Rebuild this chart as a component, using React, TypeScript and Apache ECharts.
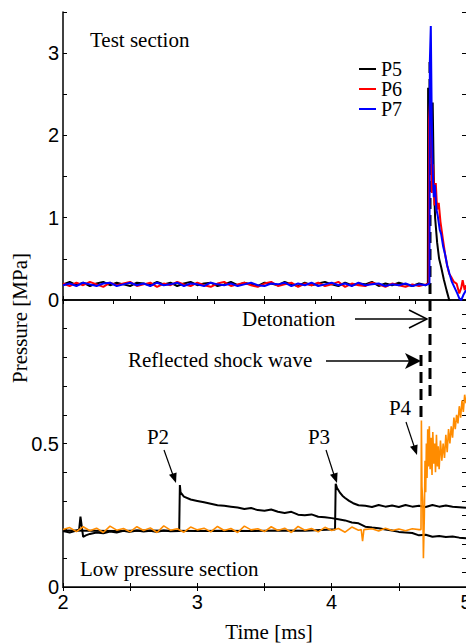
import React, { useEffect, useRef } from "react";
import * as echarts from "echarts";

// ---------- Top panel (test section) ----------
const tBaseTop = [2.0, 2.05, 2.1, 2.15, 2.2, 2.25, 2.3, 2.35, 2.4, 2.45, 2.5, 2.55, 2.6, 2.65, 2.7, 2.75, 2.8, 2.85, 2.9, 2.95,
  3.0, 3.05, 3.1, 3.15, 3.2, 3.25, 3.3, 3.35, 3.4, 3.45, 3.5, 3.55, 3.6, 3.65, 3.7, 3.75, 3.8, 3.85, 3.9, 3.95,
  4.0, 4.05, 4.1, 4.15, 4.2, 4.25, 4.3, 4.35, 4.4, 4.45, 4.5, 4.55, 4.6, 4.65];

const baseP5 = [0.19, 0.22, 0.18, 0.21, 0.17, 0.2, 0.22, 0.18, 0.21, 0.19,
  0.17, 0.21, 0.2, 0.18, 0.22, 0.19, 0.21, 0.17, 0.2, 0.22,
  0.18, 0.2, 0.21, 0.17, 0.19, 0.22, 0.18, 0.21, 0.19, 0.17,
  0.21, 0.2, 0.18, 0.22, 0.19, 0.17, 0.21, 0.18, 0.2, 0.22,
  0.19, 0.17, 0.21, 0.18, 0.2, 0.19, 0.22, 0.17, 0.2, 0.18,
  0.21, 0.19, 0.17, 0.2];
const baseP6 = [0.2, 0.17, 0.21, 0.18, 0.22, 0.19, 0.16, 0.21, 0.18, 0.2,
  0.22, 0.17, 0.19, 0.21, 0.16, 0.2, 0.18, 0.22, 0.19, 0.17,
  0.21, 0.18, 0.16, 0.2, 0.22, 0.17, 0.19, 0.21, 0.18, 0.16,
  0.2, 0.22, 0.17, 0.19, 0.21, 0.16, 0.2, 0.18, 0.21, 0.17,
  0.19, 0.22, 0.16, 0.2, 0.18, 0.17, 0.21, 0.19, 0.16, 0.2,
  0.18, 0.16, 0.19, 0.17];
const baseP7 = [0.18, 0.2, 0.17, 0.21, 0.19, 0.17, 0.2, 0.21, 0.17, 0.19,
  0.21, 0.18, 0.2, 0.17, 0.21, 0.18, 0.19, 0.21, 0.17, 0.2,
  0.19, 0.17, 0.21, 0.19, 0.18, 0.2, 0.17, 0.19, 0.21, 0.18,
  0.17, 0.2, 0.19, 0.21, 0.17, 0.2, 0.18, 0.21, 0.17, 0.19,
  0.21, 0.18, 0.2, 0.17, 0.21, 0.18, 0.19, 0.2, 0.17, 0.19,
  0.18, 0.2, 0.17, 0.19];

const tPeakP5 = [4.7, 4.716, 4.718, 4.725, 4.735, 4.745, 4.752, 4.76, 4.77, 4.785, 4.8, 4.815, 4.835, 4.855, 4.875, 4.89];
const vPeakP5 = [0.18, 0.2, 2.58, 2.0, 2.3, 1.6, 2.4, 1.5, 1.0, 0.7, 0.5, 0.4, 0.25, 0.12, 0.0, -0.1];
const tPeakP6 = [4.7, 4.722, 4.725, 4.735, 4.745, 4.755, 4.765, 4.775, 4.785, 4.797, 4.81, 4.828, 4.845, 4.86, 4.875, 4.89, 4.91, 4.93, 4.95, 4.965, 4.975, 4.99, 5.0];
const vPeakP6 = [0.19, 0.2, 2.2, 2.5, 1.3, 1.65, 1.15, 1.42, 1.1, 1.18, 0.95, 0.74, 0.55, 0.42, 0.32, 0.28, 0.22, 0.2, 0.08, 0.15, 0.24, 0.12, 0.18];
const tPeakP7 = [4.7, 4.728, 4.731, 4.738, 4.745, 4.752, 4.76, 4.768, 4.78, 4.79, 4.805, 4.815, 4.83, 4.845, 4.86, 4.877, 4.895, 4.915, 4.935, 4.95, 4.965, 4.98, 5.0];
const vPeakP7 = [0.18, 0.2, 2.9, 3.33, 2.2, 1.6, 1.25, 1.4, 1.1, 1.02, 0.85, 0.8, 0.65, 0.55, 0.42, 0.32, 0.22, 0.15, 0.08, 0.02, 0.0, 0.06, 0.12];

// ---------- Bottom panel (low pressure section) ----------
const tP2 = [2.0, 2.05, 2.1, 2.12, 2.13, 2.15, 2.17, 2.2, 2.25, 2.3, 2.35, 2.4, 2.45, 2.5, 2.55, 2.6, 2.65, 2.7, 2.75, 2.8, 2.865, 2.87, 2.875, 2.9, 2.95, 3.0, 3.05, 3.1, 3.15, 3.2, 3.25, 3.3, 3.35, 3.4, 3.45, 3.5, 3.55, 3.6, 3.65, 3.7, 3.75, 3.8, 3.85, 3.9, 3.95, 4.0, 4.05, 4.1, 4.15, 4.2, 4.25, 4.3, 4.35, 4.4, 4.45, 4.5, 4.55, 4.6, 4.65, 4.7, 4.75, 4.8, 4.85, 4.9, 4.95, 5.0];
const vP2 = [0.195, 0.19, 0.197, 0.2, 0.245, 0.175, 0.18, 0.185, 0.19, 0.187, 0.193, 0.19, 0.196, 0.192, 0.197, 0.193, 0.196, 0.192, 0.197, 0.194, 0.195, 0.355, 0.33, 0.315, 0.305, 0.3, 0.295, 0.29, 0.285, 0.283, 0.28, 0.277, 0.272, 0.275, 0.268, 0.266, 0.27, 0.262, 0.258, 0.262, 0.252, 0.25, 0.253, 0.245, 0.243, 0.24, 0.236, 0.232, 0.225, 0.222, 0.21, 0.207, 0.205, 0.2, 0.197, 0.192, 0.19, 0.188, 0.18, 0.182, 0.175, 0.178, 0.174, 0.176, 0.172, 0.17];

const tP3 = [2.0, 2.2, 2.4, 2.6, 2.8, 3.0, 3.2, 3.4, 3.6, 3.8, 4.0, 4.025, 4.03, 4.04, 4.06, 4.08, 4.1, 4.13, 4.16, 4.2, 4.25, 4.3, 4.35, 4.4, 4.45, 4.5, 4.55, 4.6, 4.65, 4.7, 4.75, 4.8, 4.85, 4.9, 4.95, 5.0];
const vP3 = [0.197, 0.196, 0.195, 0.197, 0.196, 0.195, 0.196, 0.195, 0.197, 0.196, 0.2, 0.2, 0.36, 0.345, 0.33, 0.318, 0.31, 0.3, 0.292, 0.285, 0.283, 0.279, 0.286, 0.28, 0.284, 0.279, 0.286, 0.28, 0.283, 0.279, 0.286, 0.28, 0.284, 0.28, 0.278, 0.276];

const tP4 = [2.0, 2.05, 2.1, 2.15, 2.2, 2.25, 2.3, 2.35, 2.4, 2.45, 2.5, 2.55, 2.6, 2.65, 2.7, 2.75, 2.8, 2.85, 2.9, 2.95, 3.0, 3.05, 3.1, 3.15, 3.2, 3.25, 3.3, 3.35, 3.4, 3.45, 3.5, 3.55, 3.6, 3.65, 3.7, 3.75, 3.8, 3.85, 3.9, 3.95, 4.0, 4.05, 4.1, 4.15, 4.2, 4.22, 4.23, 4.24, 4.3, 4.35, 4.4, 4.45, 4.5, 4.55, 4.6, 4.65,
  4.665, 4.668, 4.672, 4.678, 4.683, 4.69, 4.695, 4.7, 4.705, 4.71, 4.715, 4.72, 4.727, 4.733, 4.74, 4.747, 4.753, 4.76, 4.767, 4.773, 4.78, 4.787, 4.793, 4.8, 4.81, 4.82, 4.83, 4.84, 4.85, 4.86, 4.87, 4.88, 4.89, 4.9, 4.91, 4.92, 4.93, 4.94, 4.95, 4.96, 4.97, 4.98, 4.99, 5.0];
const vP4 = [0.2, 0.207, 0.193, 0.21, 0.196, 0.205, 0.19, 0.212, 0.198, 0.204, 0.192, 0.21, 0.197, 0.206, 0.19, 0.213, 0.198, 0.203, 0.191, 0.209, 0.199, 0.205, 0.192, 0.211, 0.197, 0.204, 0.19, 0.212, 0.199, 0.203, 0.193, 0.21, 0.197, 0.205, 0.19, 0.211, 0.198, 0.204, 0.192, 0.208, 0.197, 0.204, 0.191, 0.209, 0.198, 0.2, 0.16, 0.2, 0.203, 0.195, 0.205, 0.197, 0.202, 0.196, 0.203, 0.2,
  0.2, 0.58, 0.35, 0.3, 0.1, 0.25, 0.44, 0.33, 0.5, 0.38, 0.55, 0.42, 0.56, 0.41, 0.52, 0.39, 0.54, 0.43, 0.5, 0.4, 0.53, 0.42, 0.49, 0.41, 0.51, 0.44, 0.5, 0.45, 0.53, 0.47, 0.55, 0.5, 0.56, 0.52, 0.59, 0.55, 0.6, 0.57, 0.63, 0.59, 0.65, 0.61, 0.67, 0.64];

const zip = (t: number[], v: number[]) => t.map((x, i) => [x, v[i]]);

const SERIF = '"Liberation Serif", "Times New Roman", serif';
const SANS = '"Liberation Sans", Arial, sans-serif';

export default function App() {
  const ref = useRef<HTMLDivElement>(null);
  useEffect(() => {
    if (!ref.current) return;
    const chart = echarts.init(ref.current, undefined, { renderer: "svg" });
    const tick = (show: boolean, len = 4) => ({ show, inside: true, length: len, lineStyle: { color: "#000", width: 1 } });
    const xBase = { type: "value", min: 2, max: 5, splitLine: { show: false } };
    const line = (name: string, color: string, data: number[][], xi: number, yi: number, w = 1.5) => ({
      name, type: "line", xAxisIndex: xi, yAxisIndex: yi, data, showSymbol: false, symbol: "none",
      lineStyle: { color, width: w }, itemStyle: { color }, clip: true,
    });
    const txt = (text: string, x: number, y: number, extra: any = {}) => ({
      type: "text", x, y, z: 10,
      style: { text, font: `21px ${SERIF}`, fill: "#000", textAlign: "left", textVerticalAlign: "middle", ...extra },
    });
    const arrowHead = (pts: number[][]) => ({ type: "polygon", z: 10, shape: { points: pts }, style: { fill: "#000" } });
    const seg = (x1: number, y1: number, x2: number, y2: number, w = 1.5, dash?: number[]) => ({
      type: "line", z: 10, shape: { x1, y1, x2, y2 },
      style: { stroke: "#000", lineWidth: w, lineDash: dash },
    });

    chart.setOption({
      animation: false,
      grid: [
        { left: 63, top: 12, width: 403, height: 288, outerBoundsMode: "none", containLabel: false },
        { left: 63, top: 300, width: 403, height: 287, outerBoundsMode: "none", containLabel: false },
      ],
      xAxis: [
        { ...xBase, gridIndex: 0, position: "bottom", interval: 0.5, axisLine: { lineStyle: { color: "#000", width: 1.5 } }, axisTick: tick(true), axisLabel: { show: false } },
        { ...xBase, gridIndex: 0, position: "top", interval: 0.375, axisLine: { lineStyle: { color: "#000", width: 1.5 } }, axisTick: tick(true), axisLabel: { show: false } },
        {
          ...xBase, gridIndex: 1, position: "bottom", interval: 0.5,
          axisLine: { lineStyle: { color: "#444", width: 2 } }, axisTick: tick(true),
          axisLabel: { show: true, margin: 5, color: "#000", fontSize: 20, fontFamily: SANS, formatter: (v: number) => (Math.abs(v - Math.round(v)) < 1e-6 ? String(Math.round(v)) : "") },
        },
        { ...xBase, gridIndex: 1, position: "top", interval: 0.5, axisLine: { lineStyle: { color: "#000", width: 1 } }, axisTick: tick(true), axisLabel: { show: false } },
      ],
      yAxis: [
        {
          type: "value", gridIndex: 0, position: "left", min: 0, max: 3.5, interval: 0.5, splitLine: { show: false },
          axisLine: { show: true, lineStyle: { color: "#000", width: 1.5 } }, axisTick: tick(true),
          axisLabel: { margin: 4, color: "#000", fontSize: 20, fontFamily: SANS, formatter: (v: number) => (Math.abs(v - Math.round(v)) < 1e-6 && v < 3.4 ? String(Math.round(v)) : "") },
        },
        { type: "value", gridIndex: 0, position: "right", min: 0, max: 3.5, interval: 0.5, splitLine: { show: false }, axisLine: { show: true, lineStyle: { color: "#000" } }, axisTick: tick(true), axisLabel: { show: false } },
        {
          type: "value", gridIndex: 1, position: "left", min: 0, max: 1, interval: 0.1, splitLine: { show: false },
          axisLine: { show: true, lineStyle: { color: "#000", width: 1.5 } }, axisTick: tick(true),
          axisLabel: { margin: 4, color: "#000", fontSize: 20, fontFamily: SANS, formatter: (v: number) => (Math.abs(v) < 1e-6 ? "0" : Math.abs(v - 0.5) < 1e-6 ? "0.5" : "") },
        },
        { type: "value", gridIndex: 1, position: "right", min: 0, max: 1, interval: 0.05, splitLine: { show: false }, axisLine: { show: true, lineStyle: { color: "#000" } }, axisTick: tick(true), axisLabel: { show: false } },
      ],
      legend: {
        data: ["P5", "P6", "P7"], orient: "vertical", left: 359, top: 59, itemGap: 0, padding: 0,
        icon: "rect", itemWidth: 17, itemHeight: 2,
        textStyle: { fontFamily: SERIF, fontSize: 20, lineHeight: 19, color: "#000" },
      },
      series: [
        line("P5", "#000000", zip([...tBaseTop, ...tPeakP5], [...baseP5, ...vPeakP5]), 0, 0, 2),
        line("P6", "#ff0000", zip([...tBaseTop, ...tPeakP6], [...baseP6, ...vPeakP6]), 0, 0, 2),
        line("P7", "#0000ff", zip([...tBaseTop, ...tPeakP7], [...baseP7, ...vPeakP7]), 0, 0, 2),
        line("P2", "#000000", zip(tP2, vP2), 2, 2, 2),
        line("P3", "#000000", zip(tP3, vP3), 2, 2, 2),
        line("P4", "#ff8c00", zip(tP4, vP4), 2, 2, 1.6),
      ],
      graphic: [
        // dashed markers
        { ...seg(430, 62, 430, 398, 3, [11, 6]), z: 1 },
        seg(421, 355, 421, 419, 3, [11, 6]),
        // labels
        txt("Test section", 90, 40),
        txt("Low pressure section", 80, 569),
        txt("Detonation", 242, 319),
        txt("Reflected shock wave", 128, 360),
        txt("P2", 158, 437, { textAlign: "center" }),
        txt("P3", 319, 437, { textAlign: "center" }),
        txt("P4", 400, 408, { textAlign: "center" }),
        // Detonation arrow (open head)
        seg(355, 319, 426, 319, 1.5),
        { type: "polyline", z: 10, shape: { points: [[409, 310], [427, 319], [409, 328]] }, style: { stroke: "#000", lineWidth: 1.5, fill: null } },
        // Reflected shock wave arrow (filled head)
        seg(326, 361, 412, 361, 1.5),
        arrowHead([[421, 361], [405, 353], [409, 361], [405, 369]]),
        // P2, P3, P4 arrows
        seg(164, 450, 174, 478, 1.2),
        arrowHead([[176, 483], [176.6, 472.4], [169, 474.8]]),
        seg(326, 450, 335, 478, 1.2),
        arrowHead([[337, 483], [337.6, 472.4], [330, 474.8]]),
        seg(406, 422, 415, 449, 1.2),
        arrowHead([[417, 455], [417.6, 444.4], [410, 446.8]]),
        // axis titles
        { type: "text", x: 20, y: 318, rotation: Math.PI / 2, z: 10, style: { text: "Pressure [MPa]", font: `21px ${SERIF}`, fill: "#000", textAlign: "center", textVerticalAlign: "middle" } },
        { type: "text", x: 269, y: 632, z: 10, style: { text: "Time [ms]", font: `21px ${SERIF}`, fill: "#000", textAlign: "center", textVerticalAlign: "middle" } },
      ],
    });
    return () => chart.dispose();
  }, []);
  return <div ref={ref} style={{ position: "fixed", left: 0, top: 0, width: 466, height: 644, background: "#fff" }} />;
}
